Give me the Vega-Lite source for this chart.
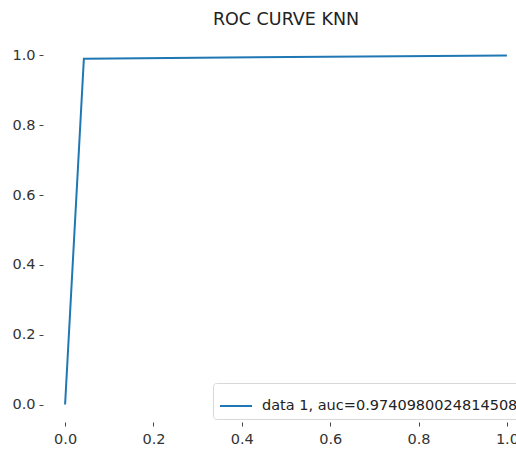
{
  "$schema": "https://vega.github.io/schema/vega-lite/v6.json",
  "autosize": "none",
  "width": 486,
  "height": 384,
  "padding": {"left": 43, "top": 38, "right": 0, "bottom": 28},
  "background": "white",
  "title": {
    "text": "ROC CURVE KNN",
    "font": "DejaVu Sans",
    "fontSize": 17.5,
    "fontWeight": "normal",
    "color": "#222222",
    "anchor": "middle",
    "offset": 10
  },
  "config": {
    "view": {"stroke": null},
    "axis": {
      "domain": false,
      "grid": false,
      "labelFont": "DejaVu Sans",
      "labelFontSize": 14.5,
      "labelColor": "#333333",
      "tickColor": "#444444",
      "tickSize": 4,
      "tickWidth": 1,
      "labelPadding": 4,
      "title": null
    }
  },
  "data": {
    "values": [
      {"fpr": 0.0, "tpr": 0.0, "series": "data 1, auc=0.9740980024814508"},
      {"fpr": 0.0425, "tpr": 0.9908, "series": "data 1, auc=0.9740980024814508"},
      {"fpr": 1.0, "tpr": 1.0, "series": "data 1, auc=0.9740980024814508"}
    ]
  },
  "mark": {"type": "line", "strokeWidth": 2, "clip": false},
  "encoding": {
    "x": {
      "field": "fpr",
      "type": "quantitative",
      "scale": {"domain": [-0.05, 1.05], "nice": false, "zero": false},
      "axis": {"values": [0, 0.2, 0.4, 0.6, 0.8, 1.0], "format": ".1f", "offset": 0, "labelPadding": 6}
    },
    "y": {
      "field": "tpr",
      "type": "quantitative",
      "scale": {"domain": [-0.05, 1.05], "nice": false, "zero": false},
      "axis": {"values": [0, 0.2, 0.4, 0.6, 0.8, 1.0], "format": ".1f"}
    },
    "color": {
      "field": "series",
      "type": "nominal",
      "scale": {"range": ["#1f77b4"]},
      "legend": {
        "orient": "none",
        "legendX": 170,
        "legendY": 345,
        "title": null,
        "symbolType": "stroke",
        "symbolStrokeWidth": 2,
        "symbolSize": 1024,
        "labelOffset": 9,
        "labelFont": "DejaVu Sans",
        "labelFontSize": 14.5,
        "labelColor": "#222222",
        "labelLimit": 0,
        "strokeColor": "#d8d8d8",
        "fillColor": "white",
        "cornerRadius": 3,
        "padding": 6
      }
    }
  }
}
